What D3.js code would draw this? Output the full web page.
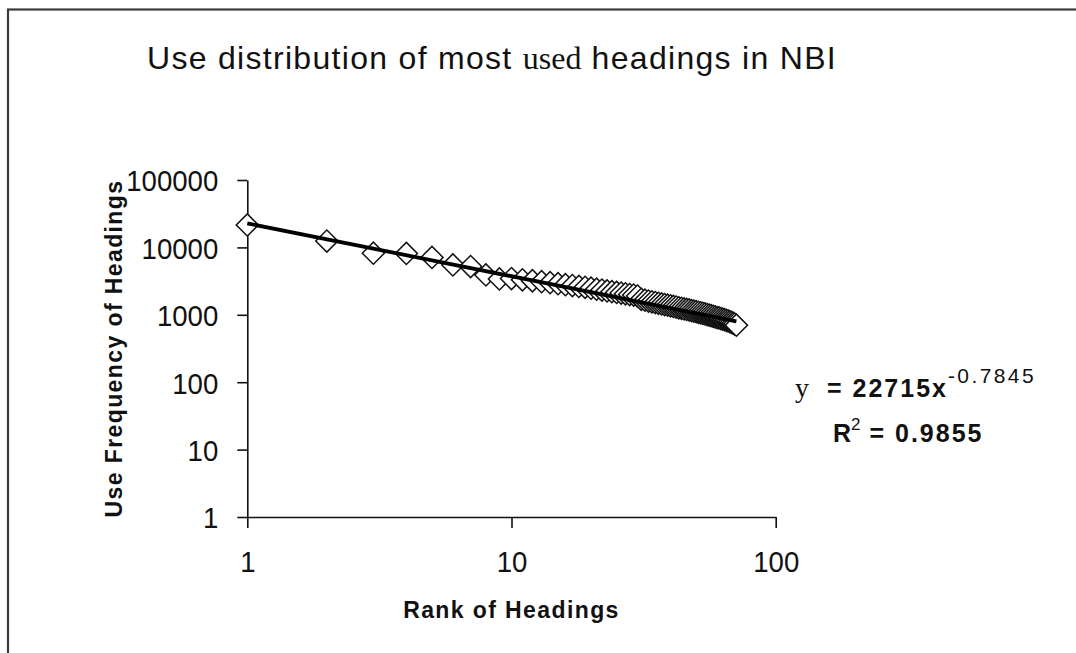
<!DOCTYPE html>
<html>
<head>
<meta charset="utf-8">
<script src="https://cdn.jsdelivr.net/npm/d3@7"></script>
<style>
  body { margin: 0; background: #fff; }
  svg { display: block; }
  .tick-label { font-family: "Liberation Sans", Arial, sans-serif; font-size: 30px; fill: #111; }
  .axis-title { font-family: "Liberation Sans", Arial, sans-serif; font-weight: bold; font-size: 23px; letter-spacing: 1.4px; fill: #111; }
</style>
</head>
<body>
<svg id="chart_svg"></svg>
<script>
// Data: rank of heading vs use frequency
var ranks = [1, 2, 3, 4, 5, 6, 7, 8, 9, 10,
             11, 12, 13, 14, 15, 16, 17, 18, 19, 20,
             21, 22, 23, 24, 25, 26, 27, 28, 29, 30,
             31, 32, 33, 34, 35, 36, 37, 38, 39, 40,
             41, 42, 43, 44, 45, 46, 47, 48, 49, 50,
             51, 52, 53, 54, 55, 56, 57, 58, 59, 60,
             61, 62, 63, 64, 65, 66, 67, 68, 69, 70, 71];
var frequencies = [21500, 12400, 8200, 8150, 7100, 5500, 5200, 3900, 3400, 3450,
                   3300, 3200, 3100, 3000, 2900, 2800, 2720, 2640, 2560, 2480,
                   2400, 2330, 2260, 2200, 2150, 2100, 2050, 2000, 1960, 1900,
                   1700, 1650, 1600, 1560, 1520, 1480, 1450, 1420, 1390, 1360,
                   1330, 1300, 1270, 1250, 1220, 1200, 1180, 1150, 1130, 1110,
                   1090, 1070, 1050, 1030, 1010, 990, 970, 950, 930, 910,
                   900, 880, 860, 845, 830, 810, 790, 770, 750, 730, 700];

// Power trendline shown on the chart
var trendCoef = 22715;
var trendExp = -0.7845;
var trendR2 = 0.9855;

var xTicks = [1, 10, 100];
var yTicks = [1, 10, 100, 1000, 10000, 100000];

var titleParts = ["Use distribution of most ", "used", " headings in NBI"];
var xTitle = "Rank of Headings";
var yTitle = "Use Frequency of Headings";

var W = 1076, H = 653;

// Plot area
var margin = {
    'top': 180,
    'left': 247.3,
    'right': 300.3,
    'bottom': 136
};
var plotW = W - margin.left - margin.right;
var plotH = H - margin.top - margin.bottom;
// tick digits are drawn a bit narrow, like the original bitmap font
var tickSqueeze = 0.92;

var base = d3.select('#chart_svg')
             .attr('width', W)
             .attr('height', H);

// Frame (only top and left edges are inside the picture)
base.append('rect')
    .attr('x', 8).attr('y', 9.5)
    .attr('width', W + 40).attr('height', H + 40)
    .attr('fill', 'none')
    .attr('stroke', '#3a3a3a')
    .attr('stroke-width', 2.2);

// Title, the word "used" is set in a serif face
var title = base.append('text')
    .attr('x', 147)
    .attr('y', 69)
    .attr('fill', '#111')
    .style('font-family', '"Liberation Sans", Arial, sans-serif')
    .style('font-size', '32px')
    .style('letter-spacing', '1.3px');
title.append('tspan').text(titleParts[0]);
title.append('tspan')
     .style('font-family', '"Liberation Serif", "Times New Roman", serif')
     .style('letter-spacing', '0px')
     .text(titleParts[1]);
title.append('tspan').text(titleParts[2]);

var x = d3.scaleLog().domain([1, 100]).range([0, plotW]);
var y = d3.scaleLog().domain([1, 100000]).range([plotH, 0]);

var g = base.append('g')
            .attr('transform', 'translate(' + margin.left + ',' + margin.top + ')');

// Axes
var xAxis = g.append('g')
    .attr('transform', 'translate(0,' + plotH + ')')
    .call(d3.axisBottom(x).tickValues(xTicks).tickFormat(d3.format('d')).tickSize(11).tickSizeOuter(0));
var yAxis = g.append('g')
    .call(d3.axisLeft(y).tickValues(yTicks).tickFormat(d3.format('d')).tickSize(10).tickSizeOuter(0));

[xAxis, yAxis].forEach(function (ax) {
    ax.attr('font-size', null).attr('font-family', null);
    ax.select('.domain').attr('stroke', '#111').attr('stroke-width', 1.6);
    ax.selectAll('.tick line').attr('stroke', '#111').attr('stroke-width', 1.6);
    ax.selectAll('.tick text')
      .attr('class', 'tick-label')
      .attr('fill', null)
      .attr('transform', 'scale(' + tickSqueeze + ',1)');
});
xAxis.selectAll('.tick text').attr('y', 55).attr('dy', null);
yAxis.selectAll('.tick text').attr('x', -29 / tickSqueeze).attr('dy', '0.36em');

// Axis titles
g.append('text')
    .attr('class', 'axis-title')
    .attr('text-anchor', 'middle')
    .attr('x', plotW / 2)
    .attr('y', plotH + 101)
    .text(xTitle);
g.append('text')
    .attr('class', 'axis-title')
    .attr('text-anchor', 'middle')
    .attr('transform', 'translate(' + (-125) + ',' + (plotH / 2) + ') rotate(-90)')
    .text(yTitle);

// Points as open diamonds
var points = ranks.map(function (r, i) { return {rank: r, freq: frequencies[i]}; });
var diamond = d3.symbol().type(d3.symbolSquare).size(245);
g.append('g')
  .selectAll('path')
  .data(points)
  .enter()
  .append('path')
    .attr('d', diamond)
    .attr('transform', function (d) {
        return 'translate(' + x(d.rank) + ',' + y(d.freq) + ') rotate(45)';
    })
    .attr('fill', '#fff')
    .attr('stroke', '#111')
    .attr('stroke-width', 1.5);

// Power trendline over the data range
var trendX = [ranks[0], ranks[ranks.length - 1]];
var line = d3.line()
    .x(function (d) { return x(d); })
    .y(function (d) { return y(trendCoef * Math.pow(d, trendExp)); });
g.append('path')
  .datum(trendX)
  .attr('d', line)
  .attr('fill', 'none')
  .attr('stroke', '#000')
  .attr('stroke-width', 3.8);

// Trendline equation
var eq = base.append('text')
    .attr('x', 795)
    .attr('y', 397)
    .attr('fill', '#111')
    .style('font-family', '"Liberation Sans", Arial, sans-serif')
    .style('font-weight', 'bold')
    .style('font-size', '25px');
eq.append('tspan')
  .style('font-family', '"Liberation Serif", "Times New Roman", serif')
  .style('font-weight', 'normal')
  .style('font-size', '28px')
  .text('y');
eq.append('tspan').attr('dx', 18).style('letter-spacing', '2px').text('= ' + trendCoef + 'x');
eq.append('tspan')
  .attr('dy', -14)
  .style('font-weight', 'normal')
  .style('font-size', '21px')
  .style('letter-spacing', '2.4px')
  .text(trendExp);

var r2 = base.append('text')
    .attr('x', 833)
    .attr('y', 442)
    .attr('fill', '#111')
    .style('font-family', '"Liberation Sans", Arial, sans-serif')
    .style('font-weight', 'bold')
    .style('font-size', '25px');
r2.append('tspan').text('R');
r2.append('tspan')
  .attr('dy', -12)
  .style('font-weight', 'normal')
  .style('font-size', '17px')
  .text('2');
r2.append('tspan').attr('dy', 12).style('letter-spacing', '2px').text(' = ' + trendR2);
</script>
</body>
</html>
